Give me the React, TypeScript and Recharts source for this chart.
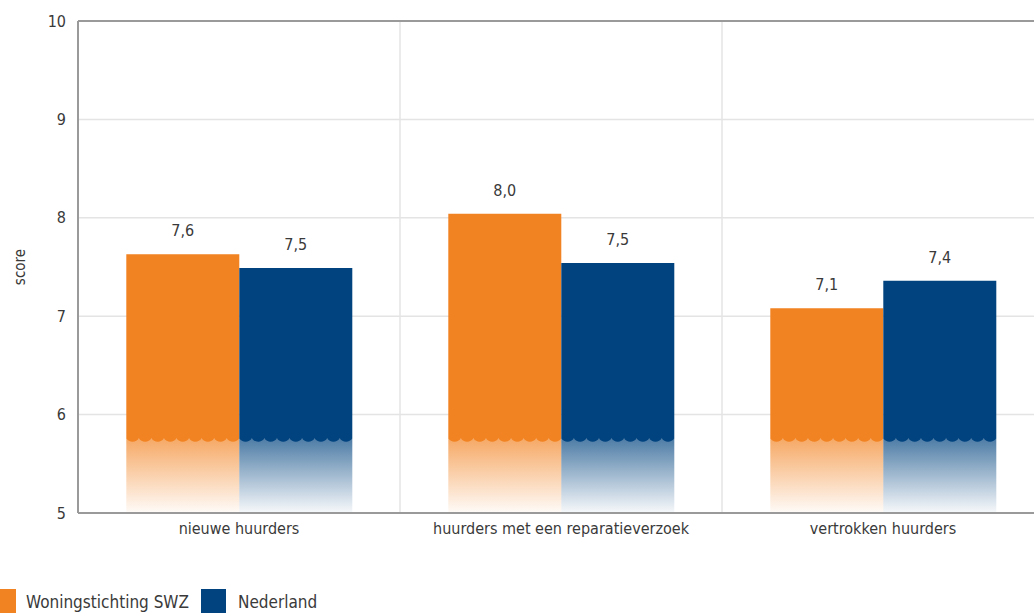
import React from "react"
import {
  BarChart,
  Bar,
  XAxis,
  YAxis,
  CartesianGrid,
  LabelList,
  ReferenceLine,
} from "recharts"

const categories: string[] = [
  "nieuwe huurders",
  "huurders met een reparatieverzoek",
  "vertrokken huurders",
]
const swzScores: number[] = [7.63, 8.04, 7.08]
const nlScores: number[] = [7.49, 7.54, 7.36]
const yTicks: number[] = [5, 6, 7, 8, 9, 10]

const seriesNames = { swz: "Woningstichting SWZ", nl: "Nederland" }
const ORANGE = "#f28322"
const BLUE = "#00437f"
const FONT = "'Liberation Sans Narrow', 'DejaVu Sans Condensed', sans-serif"
const TEXT = "#3a3a3a"

const data = categories.map((name, i) => ({
  name,
  swz: swzScores[i],
  nl: nlScores[i],
}))

const fmt = (v: number) => v.toFixed(1).replace(".", ",")

// bar met "afgebroken" onderkant (golfrand + vervaging)
const BrokenBar = (props: any) => {
  const { x, y, width, height, fill, payload, dataKey, index } = props
  const v = payload[dataKey] as number
  const bottom = y + height
  const ppu = height / (v - 5)
  const breakY = bottom - 0.76 * ppu
  const n = Math.max(1, Math.round(width / 12.5))
  const p = width / n
  const depth = 3.5
  let d = `M${x},${y} H${x + width} V${breakY}`
  for (let i = n; i > 0; i--) {
    const xr = x + i * p
    d += ` C${xr - p * 0.2},${breakY + depth * 1.3} ${xr - p * 0.8},${breakY + depth * 1.3} ${xr - p},${breakY}`
  }
  d += " Z"
  const gid = `fade-${dataKey}-${index}`
  return (
    <g>
      <defs>
        <linearGradient id={gid} x1="0" y1="0" x2="0" y2="1">
          <stop offset="0%" stopColor={fill} stopOpacity={0.7} />
          <stop offset="100%" stopColor={fill} stopOpacity={0.03} />
        </linearGradient>
      </defs>
      <rect x={x} y={breakY} width={width} height={bottom - breakY} fill={`url(#${gid})`} />
      <path d={d} fill={fill} />
    </g>
  )
}

const LegendBox = () => (
  <div
    style={{
      position: "absolute",
      left: -9,
      top: 589,
      display: "flex",
      alignItems: "center",
      fontFamily: FONT,
      fontSize: 17,
      color: TEXT,
    }}
  >
    <span style={{ width: 25, height: 25, background: ORANGE, display: "inline-block" }} />
    <span style={{ marginLeft: 10, marginRight: 12 }}>{seriesNames.swz}</span>
    <span style={{ width: 25, height: 25, background: BLUE, display: "inline-block" }} />
    <span style={{ marginLeft: 12 }}>{seriesNames.nl}</span>
  </div>
)

export default function App() {
  return (
    <div
      style={{
        position: "absolute",
        left: 0,
        top: 0,
        width: 1034,
        height: 613,
        overflow: "hidden",
        background: "#fff",
      }}
    >
      <BarChart
        width={1034}
        height={613}
        data={data}
        margin={{ top: 21, right: -10, bottom: 0, left: 0 }}
        barCategoryGap="15%"
        barGap={0}
      >
        <CartesianGrid
          stroke="#e4e4e4"
          strokeWidth={1.5}
          verticalCoordinatesGenerator={({ offset }: any) => [
            offset.left + offset.width / 3,
            offset.left + (2 * offset.width) / 3,
          ]}
        />
        <XAxis
          dataKey="name"
          height={100}
          tickLine={false}
          axisLine={{ stroke: "#9a9a9a", strokeWidth: 2 }}
          tick={{ fontFamily: FONT, fontSize: 16, fill: TEXT }}
          tickMargin={4}
        />
        <YAxis
          domain={[5, 10]}
          ticks={yTicks}
          width={78}
          tickLine={false}
          axisLine={{ stroke: "#9a9a9a", strokeWidth: 2 }}
          tick={{ fontFamily: FONT, fontSize: 16, fill: TEXT }}
          tickMargin={6}
          allowDataOverflow
          label={{
            value: "score",
            angle: -90,
            position: "insideLeft",
            offset: 20,
            style: { fontFamily: FONT, fontSize: 15, fill: TEXT, textAnchor: "middle" },
          }}
        />
        <ReferenceLine y={10} stroke="#9a9a9a" strokeWidth={2} />
        <Bar dataKey="swz" name={seriesNames.swz} fill={ORANGE} shape={<BrokenBar />} isAnimationActive={false}>
          <LabelList
            dataKey="swz"
            position="top"
            offset={18}
            formatter={(v: any) => fmt(Number(v))}
            style={{ fontFamily: FONT, fontSize: 16, fill: TEXT }}
          />
        </Bar>
        <Bar dataKey="nl" name={seriesNames.nl} fill={BLUE} shape={<BrokenBar />} isAnimationActive={false}>
          <LabelList
            dataKey="nl"
            position="top"
            offset={18}
            formatter={(v: any) => fmt(Number(v))}
            style={{ fontFamily: FONT, fontSize: 16, fill: TEXT }}
          />
        </Bar>
      </BarChart>
      <LegendBox />
    </div>
  )
}
